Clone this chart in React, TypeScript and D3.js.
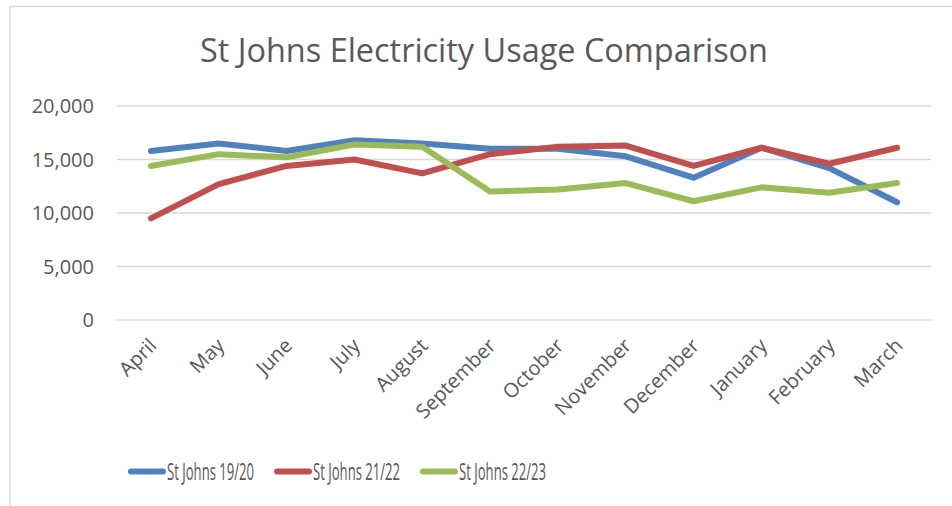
import React from 'react';
import * as d3 from 'd3';

const months = ['April', 'May', 'June', 'July', 'August', 'September', 'October', 'November', 'December', 'January', 'February', 'March'];
const stJohns1920 = [15800, 16500, 15800, 16800, 16500, 16000, 16000, 15300, 13300, 16100, 14200, 11000];
const stJohns2122 = [9500, 12700, 14400, 15000, 13700, 15500, 16200, 16300, 14400, 16100, 14600, 16100];
const stJohns2223 = [14400, 15500, 15200, 16400, 16200, 12000, 12200, 12800, 11100, 12400, 11900, 12800];
const yTicks = [0, 5000, 10000, 15000, 20000];
const seriesNames = ['St Johns 19/20', 'St Johns 21/22', 'St Johns 22/23'];
const colors = ['#4f81bd', '#c0504d', '#9bbb59'];

const width = 952;
const height = 506;
const marginLeft = 117;
const marginRight = 21;
const marginTop = 106;
const marginBottom = 186;

export default function App() {
  const series = [stJohns1920, stJohns2122, stJohns2223];
  const x = d3.scaleBand().domain(months).range([marginLeft, width - marginRight]);
  const y = d3.scaleLinear().domain([0, 20000]).range([height - marginBottom, marginTop]);
  const cx = (m: string) => (x(m) as number) + x.bandwidth() / 2;
  const line = d3.line<number>()
    .x((d, i) => cx(months[i]))
    .y(d => y(d));
  const fmt = d3.format(',');
  const font = '"Open Sans", sans-serif';
  const legendX = [131, 277, 423];
  const labelY = 337;

  return (
    <svg width={width} height={height} style={{ position: 'absolute', left: 0, top: 0, background: '#fff' }}>
      <rect x={10} y={6.5} width={width + 10} height={height + 10} fill="#fff" stroke="#d9d9d9" strokeWidth={1.5} />
      <text x={484} y={62} textAnchor="middle" fontFamily={font} fontSize={32} fill="#595959"
        textLength={568} lengthAdjust="spacingAndGlyphs">
        St Johns Electricity Usage Comparison
      </text>
      {yTicks.map(t => (
        <g key={t}>
          <line x1={marginLeft} x2={width - marginRight} y1={y(t)} y2={y(t)} stroke="#d9d9d9" strokeWidth={1.5} />
          <text x={94} y={y(t)} dy="0.36em" textAnchor="end" fontFamily={font} fontSize={20} fill="#595959">
            {fmt(t)}
          </text>
        </g>
      ))}
      {months.map(m => (
        <text key={m} x={cx(m) - 3} y={labelY} textAnchor="end" fontFamily={font} fontSize={20} fill="#595959"
          transform={`rotate(-45, ${cx(m) - 3}, ${labelY})`} dy="0.7em">
          {m}
        </text>
      ))}
      {series.map((s, i) => (
        <path key={i} d={line(s) as string} fill="none" stroke={colors[i]} strokeWidth={6}
          strokeLinejoin="round" strokeLinecap="round" />
      ))}
      {seriesNames.map((n, i) => (
        <g key={n}>
          <line x1={legendX[i]} x2={legendX[i] + 32} y1={471.5} y2={471.5} stroke={colors[i]} strokeWidth={6}
            strokeLinecap="round" />
          <text x={legendX[i] + 36} y={472} dy="0.36em" fontFamily={font} fontSize={23} fill="#595959"
            textLength={87} lengthAdjust="spacingAndGlyphs">
            {n}
          </text>
        </g>
      ))}
    </svg>
  );
}
